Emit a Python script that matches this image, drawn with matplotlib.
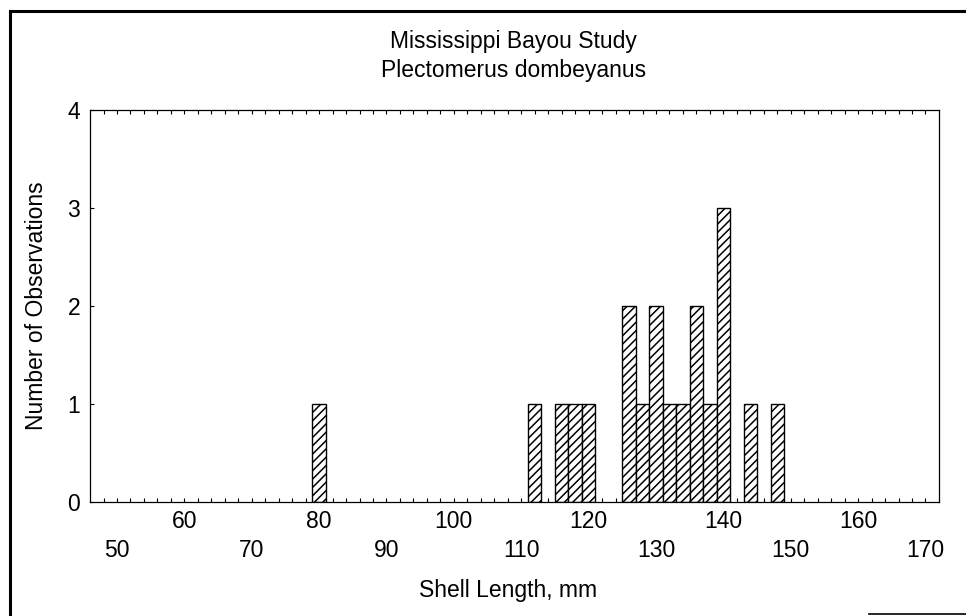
import matplotlib
matplotlib.use("Agg")
import matplotlib.pyplot as plt
from matplotlib.lines import Line2D
import numpy as np

plt.rcParams['font.family'] = ['Liberation Sans', 'DejaVu Sans']
plt.rcParams['hatch.linewidth'] = 1.1

# histogram bins (2 mm wide, centred on even lengths) and counts
bin_centers = [80, 112, 116, 118, 120, 126, 128, 130, 132, 134, 136, 138, 140, 144, 148]
counts = [1, 1, 1, 1, 1, 2, 1, 2, 1, 1, 2, 1, 3, 1, 1]
upper_labels = [60, 80, 100, 120, 140, 160]
lower_labels = [50, 70, 90, 110, 130, 150, 170]
y_ticks = [0, 1, 2, 3, 4]

FS = 16.5

fig = plt.figure(figsize=(9.66, 6.16), dpi=100)
ax = fig.add_axes([0.0932, 0.185, 0.8788, 0.6364])

ax.bar(bin_centers, counts, width=2, color='white', edgecolor='black',
       linewidth=1.0, hatch='////', zorder=2)

ax.set_xlim(46, 172)
ax.set_ylim(0, 4)

# small inward ticks every 2 mm, top and bottom
ax.set_xticks(np.arange(48, 171, 2))
ax.set_xticklabels([])
ax.tick_params(axis='x', direction='in', length=3, width=0.8, top=True)
ax.set_yticks(y_ticks)
ax.tick_params(axis='y', direction='in', length=3, width=0.8, labelsize=FS, pad=7)

for s in ax.spines.values():
    s.set_linewidth(0.9)

# staggered x tick labels
for v in upper_labels:
    ax.annotate(str(v), xy=(v, 0), xycoords=('data', 'axes fraction'),
                xytext=(0, -14), textcoords='offset points',
                ha='center', va='center', fontsize=FS)
for v in lower_labels:
    ax.annotate(str(v), xy=(v, 0), xycoords=('data', 'axes fraction'),
                xytext=(0, -35), textcoords='offset points',
                ha='center', va='center', fontsize=FS)

fig.text(0.532, 0.932, 'Mississippi Bayou Study', ha='center', va='center', fontsize=FS)
fig.text(0.532, 0.886, 'Plectomerus dombeyanus', ha='center', va='center', fontsize=FS)
fig.text(0.526, 0.042, 'Shell Length, mm', ha='center', va='center', fontsize=FS)
fig.text(0.038, 0.503, 'Number of Observations', ha='center', va='center',
         rotation=90, fontsize=FS)

# outer frame of the scanned page
fig.add_artist(Line2D([0.0104, 0.0104], [0.0, 0.982], color='black', linewidth=2.2))
fig.add_artist(Line2D([0.0104, 1.0], [0.982, 0.982], color='black', linewidth=2.2))
fig.add_artist(Line2D([0.9, 1.0], [0.003, 0.003], color='black', linewidth=1.2))

fig.savefig('out.png', dpi=100)
